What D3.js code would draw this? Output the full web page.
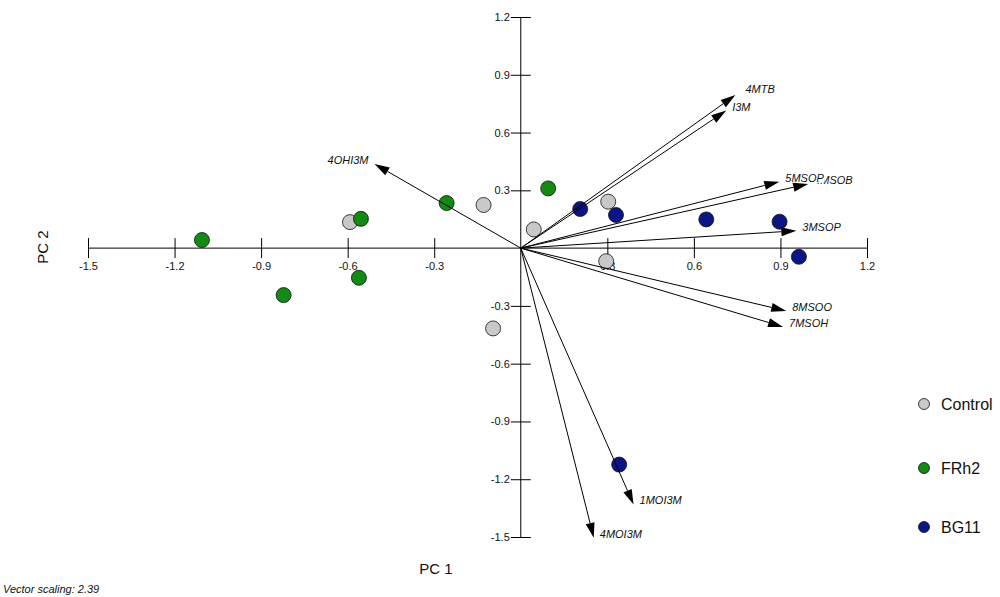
<!DOCTYPE html>
<html>
<head>
<meta charset="utf-8">
<script src="https://d3js.org/d3.v7.min.js"></script>
<style>
    body { margin: 0; background: #fff; }
    svg { display: block; font-family: "Liberation Sans", Arial, sans-serif; }
    .tick text { font-size: 11px; fill: #111; }
    .tick line, .domain { stroke: #000; stroke-width: 1px; }
    .vlabel { font-size: 11px; font-style: italic; fill: #111; }
</style>
</head>
<body>
<svg></svg>
<script>
    // Sample scores (PC 1, PC 2)
    const groups = ["Control", "FRh2", "BG11"]
    const groupColors = ["#c8c8c8", "#138a13", "#0c1585"]
    const sampleGroup = ["Control", "Control", "Control", "Control", "Control", "Control",
                         "FRh2", "FRh2", "FRh2", "FRh2", "FRh2", "FRh2",
                         "BG11", "BG11", "BG11", "BG11", "BG11", "BG11"]
    const samplePC1 = [-0.592, -0.129, 0.045, 0.303, 0.296, -0.096,
                       -1.105, -0.822, -0.554, -0.561, -0.257, 0.095,
                       0.206, 0.330, 0.643, 0.897, 0.964, 0.341]
    const samplePC2 = [0.135, 0.224, 0.097, 0.241, -0.068, -0.417,
                       0.042, -0.244, 0.152, -0.154, 0.234, 0.310,
                       0.203, 0.172, 0.149, 0.137, -0.045, -1.124]

    // Loading vectors (already scaled)
    const vectorNames = ["4MSOB", "4MTB", "I3M", "4OHI3M", "5MSOP", "3MSOP", "8MSOO", "7MSOH", "1MOI3M", "4MOI3M"]
    const vectorPC1 = [0.996, 0.744, 0.712, -0.507, 0.896, 0.955, 0.920, 0.909, 0.391, 0.253]
    const vectorPC2 = [0.333, 0.795, 0.714, 0.437, 0.345, 0.090, -0.326, -0.409, -1.331, -1.504]

    const xTicks = [-1.5, -1.2, -0.9, -0.6, -0.3, 0.3, 0.6, 0.9, 1.2]
    const yTicks = [-1.5, -1.2, -0.9, -0.6, -0.3, 0.3, 0.6, 0.9, 1.2]

    const width = 1000, height = 597
    const svg = d3.select("svg").attr("width", width).attr("height", height)

    const x = d3.scaleLinear().domain([-1.5, 1.2]).range([88, 867])
    const y = d3.scaleLinear().domain([-1.5, 1.2]).range([537, 17])
    const color = d3.scaleOrdinal().domain(groups).range(groupColors)
    const fmt = d => d.toFixed(1)

    // Axes crossing at the origin, ticks on both sides
    const gx = svg.append("g")
        .attr("transform", "translate(0," + y(0) + ")")
        .call(d3.axisBottom(x).tickValues(xTicks).tickSize(10).tickSizeOuter(0).tickPadding(4)
            .tickFormat(fmt))
    gx.selectAll(".tick line").attr("y1", -10)
    gx.select(".domain").attr("d", "M" + x(-1.5) + ",0H" + x(1.2))

    const gy = svg.append("g")
        .attr("transform", "translate(" + x(0) + ",0)")
        .call(d3.axisLeft(y).tickValues(yTicks).tickSize(10).tickSizeOuter(0).tickPadding(1)
            .tickFormat(fmt))
    gy.selectAll(".tick line").attr("x1", 10)
    gy.select(".domain").attr("d", "M0," + y(1.2) + "V" + y(-1.5))
    svg.selectAll(".tick text").attr("font-family", null)

    // Samples
    svg.append("g")
        .selectAll("circle")
        .data(samplePC1)
        .enter()
        .append("circle")
        .attr("cx", d => x(d))
        .attr("cy", (d, i) => y(samplePC2[i]))
        .attr("r", 7.5)
        .style("fill", (d, i) => color(sampleGroup[i]))
        .style("stroke", "#111")
        .style("stroke-width", 0.8)

    // Vector labels with white background (5MSOP hides the start of 4MSOB)
    const labels = svg.append("g")
    vectorNames.forEach((name, i) => {
        const tx = x(vectorPC1[i]), ty = y(vectorPC2[i])
        const right = vectorPC1[i] > 0
        const gap = name == "4MTB" ? 10 : 6
        const t = labels.append("text")
            .attr("class", "vlabel")
            .attr("x", right ? tx + gap : tx - gap)
            .attr("y", ty + (name == "4MTB" ? -2 : 0))
            .attr("text-anchor", right ? "start" : "end")
            .text(name)
        const bb = t.node().getBBox()
        labels.insert("rect", "text:last-child")
            .attr("x", bb.x).attr("y", bb.y + 2)
            .attr("width", bb.width).attr("height", bb.height - 3)
            .style("fill", "#fff")
    })

    // Arrows from origin
    const arrows = svg.append("g")
    const headLen = 15, headHalf = 4.5
    vectorNames.forEach((name, i) => {
        const x0 = x(0), y0 = y(0)
        const tx = x(vectorPC1[i]), ty = y(vectorPC2[i])
        const len = Math.hypot(tx - x0, ty - y0)
        const ux = (tx - x0) / len, uy = (ty - y0) / len
        const bx = tx - ux * headLen, by = ty - uy * headLen
        arrows.append("line")
            .attr("x1", x0).attr("y1", y0)
            .attr("x2", bx).attr("y2", by)
            .style("stroke", "#000").style("stroke-width", 1)
        arrows.append("path")
            .attr("d", "M" + tx + "," + ty +
                "L" + (bx - uy * headHalf) + "," + (by + ux * headHalf) +
                "L" + (bx + uy * headHalf) + "," + (by - ux * headHalf) + "Z")
            .style("fill", "#000")
    })

    // Axis titles
    svg.append("text")
        .attr("x", 436).attr("y", 574)
        .attr("text-anchor", "middle")
        .style("font-size", "15px").style("fill", "#111")
        .text("PC 1")
    svg.append("text")
        .attr("transform", "translate(48,247) rotate(-90)")
        .attr("text-anchor", "middle")
        .style("font-size", "15px").style("fill", "#111")
        .text("PC 2")
    svg.append("text")
        .attr("x", 3).attr("y", 593)
        .style("font-size", "11px").style("font-style", "italic").style("fill", "#111")
        .text("Vector scaling: 2.39")

    // Legend
    const legendY = [404, 468, 527]
    const legend = svg.append("g")
    groups.forEach((gname, i) => {
        legend.append("circle")
            .attr("cx", 924).attr("cy", legendY[i]).attr("r", 5.5)
            .style("fill", color(gname)).style("stroke", "#111").style("stroke-width", 0.8)
        legend.append("text")
            .attr("x", 941).attr("y", legendY[i]).attr("dy", "0.36em")
            .style("font-size", "16px").style("fill", "#111")
            .text(gname)
    })
</script>
</body>
</html>
